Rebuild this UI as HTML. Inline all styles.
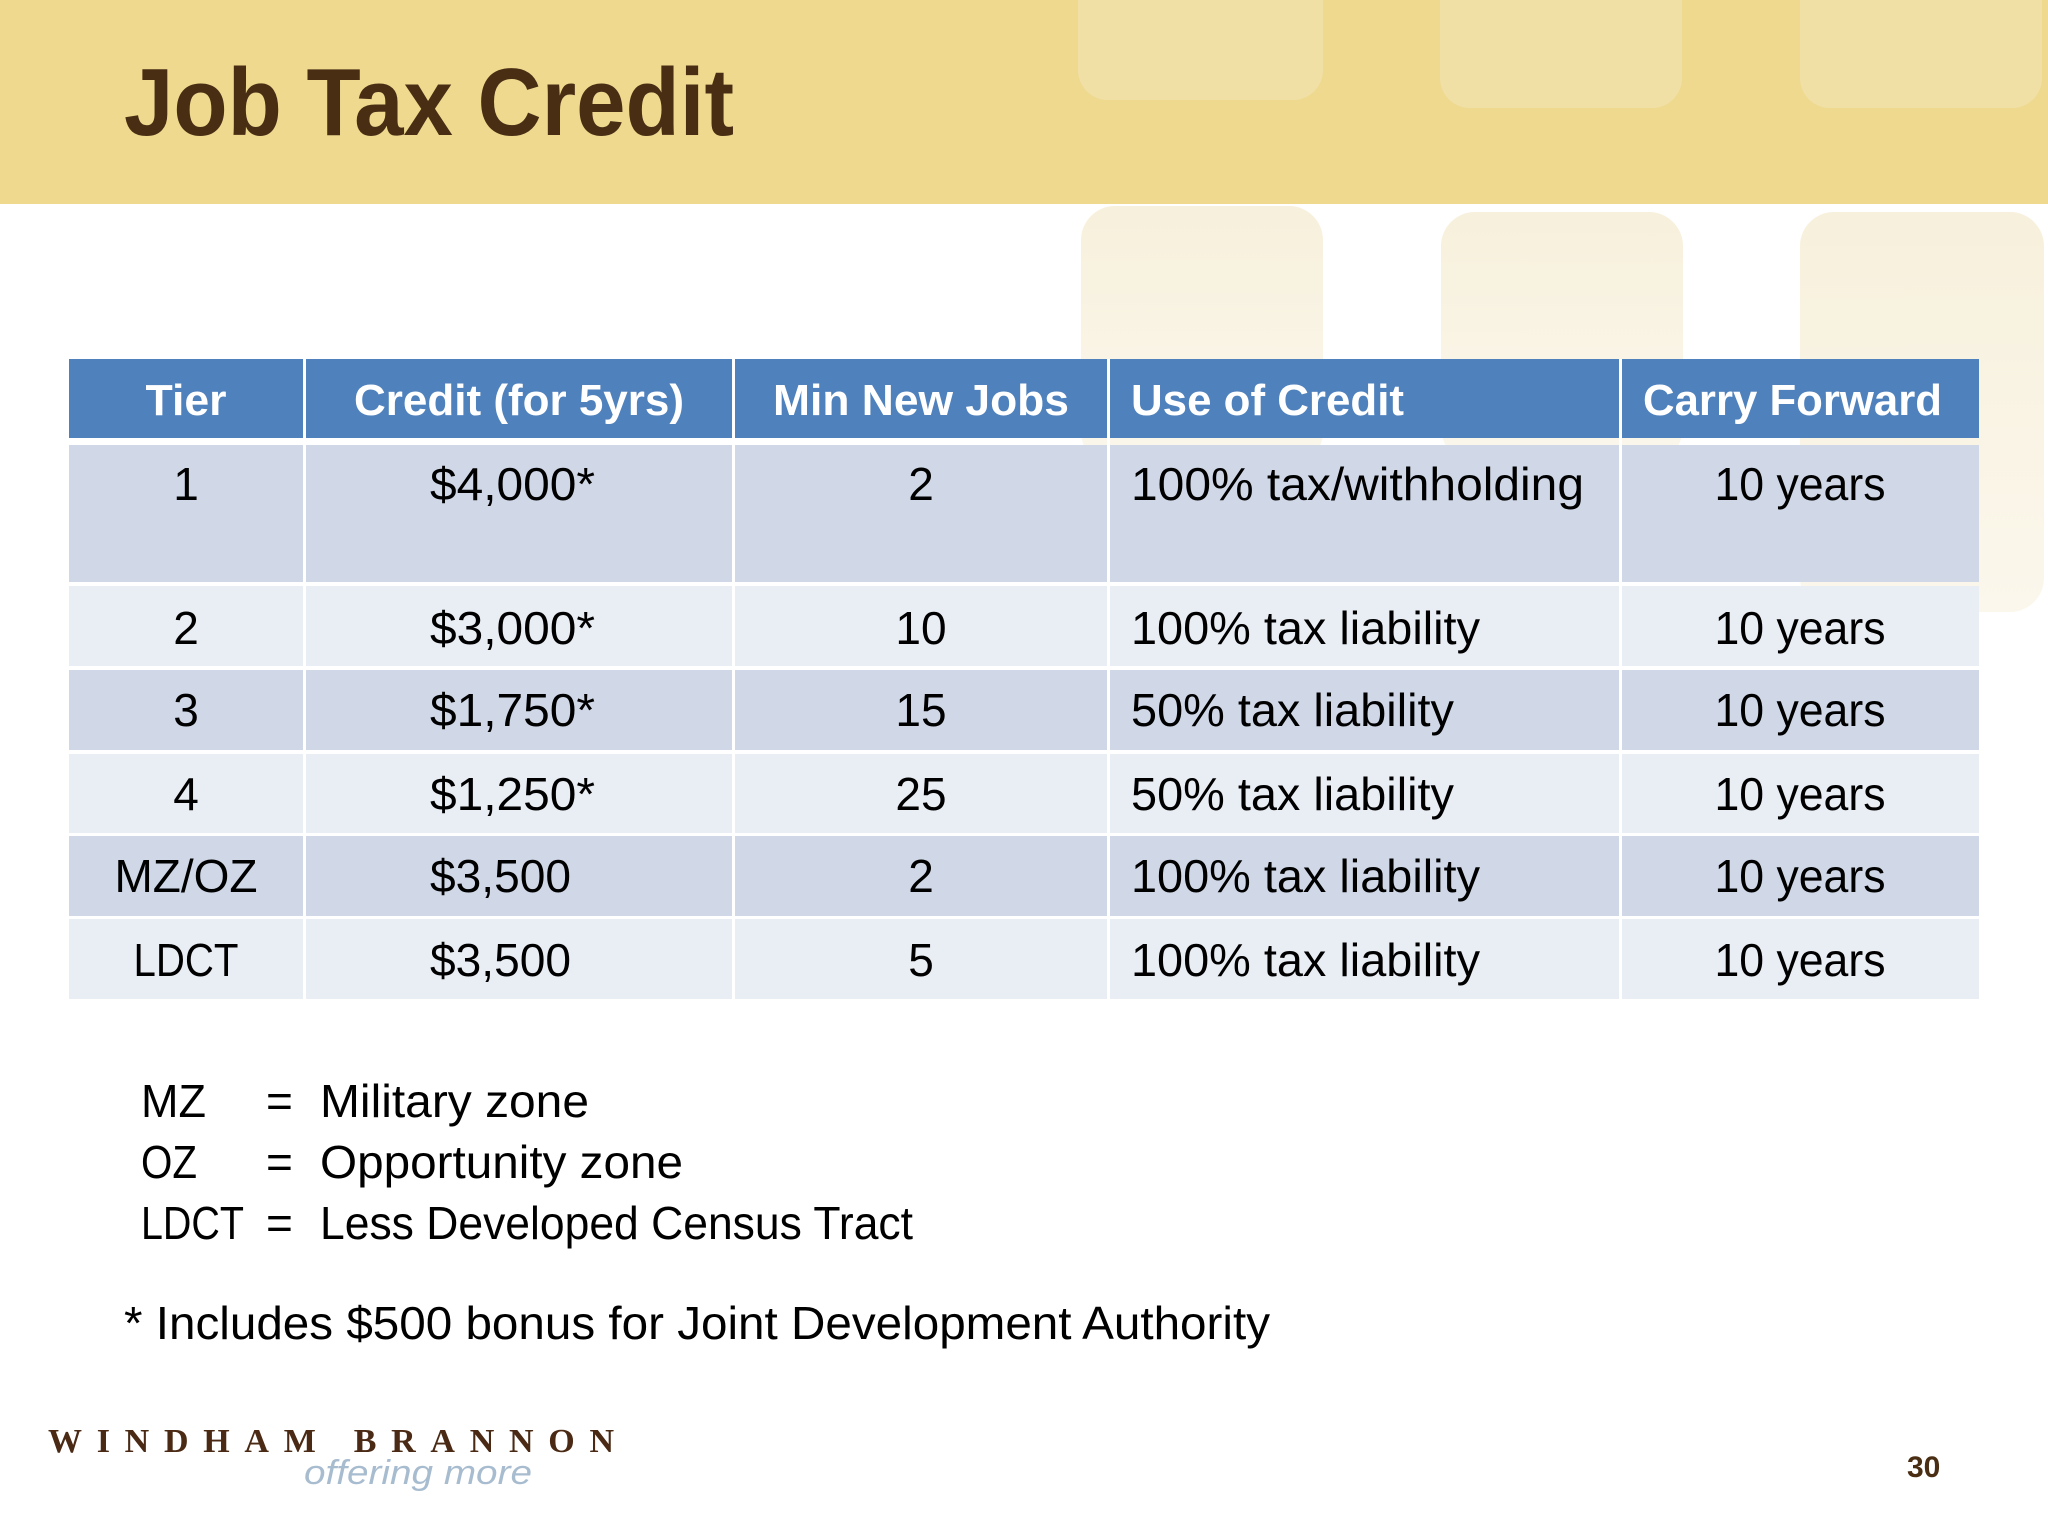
<!DOCTYPE html>
<html><head><meta charset="utf-8"><style>
html,body{margin:0;padding:0;background:#fff;}
svg{display:block;}
text{font-family:"Liberation Sans",sans-serif;}
</style></head><body>
<svg width="2048" height="1536" viewBox="0 0 2048 1536">
<defs>
<linearGradient id="fade" x1="0" y1="0" x2="0" y2="1"><stop offset="0" stop-color="#F7F0DC"/><stop offset="1" stop-color="#FBF7EC"/></linearGradient>
</defs>
<rect x="0" y="0" width="2048" height="204" fill="#EED98F"/>
<g>
<rect x="1078" y="-40" width="245" height="140" rx="30" fill="#F0E0A6"/>
<rect x="1440" y="-40" width="242" height="148" rx="30" fill="#F0E0A6"/>
<rect x="1800" y="-40" width="242" height="148" rx="30" fill="#F0E0A6"/>
<rect x="1081" y="206" width="242" height="260" rx="34" fill="url(#fade)"/>
<rect x="1441" y="212" width="242" height="250" rx="34" fill="url(#fade)"/>
<rect x="1800" y="212" width="244" height="400" rx="34" fill="url(#fade)"/>
</g>
<text x="124" y="135" font-size="96" font-weight="bold" fill="#4A2E14" textLength="610" lengthAdjust="spacingAndGlyphs">Job Tax Credit</text>

<g>
<rect x="69" y="359" width="1910" height="79" fill="#4F81BD"/>
<rect x="69" y="445" width="1910" height="137" fill="#D0D8E8"/>
<rect x="69" y="586" width="1910" height="80" fill="#E9EDF4"/>
<rect x="69" y="670" width="1910" height="80" fill="#D0D8E8"/>
<rect x="69" y="754" width="1910" height="79" fill="#E9EDF4"/>
<rect x="69" y="836" width="1910" height="80" fill="#D0D8E8"/>
<rect x="69" y="919" width="1910" height="80" fill="#E9EDF4"/>
<g fill="#fff">
<rect x="303" y="359" width="3" height="640"/><rect x="732" y="359" width="3" height="640"/>
<rect x="1107" y="359" width="3" height="640"/><rect x="1619" y="359" width="3" height="640"/>
</g>
<g font-size="44" font-weight="bold" fill="#fff">
<text x="186" y="415" text-anchor="middle" textLength="81" lengthAdjust="spacingAndGlyphs">Tier</text>
<text x="519" y="415" text-anchor="middle" textLength="330" lengthAdjust="spacingAndGlyphs">Credit (for 5yrs)</text>
<text x="921" y="415" text-anchor="middle" textLength="296" lengthAdjust="spacingAndGlyphs">Min New Jobs</text>
<text x="1131" y="415" textLength="273" lengthAdjust="spacingAndGlyphs">Use of Credit</text>
<text x="1643" y="415" textLength="299" lengthAdjust="spacingAndGlyphs">Carry Forward</text>
</g>
<g font-size="46" fill="#000">
<g>
<text x="186" y="500" text-anchor="middle">1</text>
<text x="430" y="500" textLength="165" lengthAdjust="spacingAndGlyphs">$4,000*</text>
<text x="921" y="500" text-anchor="middle">2</text>
<text x="1131" y="500" textLength="453" lengthAdjust="spacingAndGlyphs">100% tax/withholding</text>
<text x="1800" y="500" text-anchor="middle" textLength="171" lengthAdjust="spacingAndGlyphs">10 years</text>
</g>
<g>
<text x="186" y="644" text-anchor="middle">2</text>
<text x="430" y="644" textLength="165" lengthAdjust="spacingAndGlyphs">$3,000*</text>
<text x="921" y="644" text-anchor="middle">10</text>
<text x="1131" y="644" textLength="349" lengthAdjust="spacingAndGlyphs">100% tax liability</text>
<text x="1800" y="644" text-anchor="middle" textLength="171" lengthAdjust="spacingAndGlyphs">10 years</text>
</g>
<g>
<text x="186" y="726" text-anchor="middle">3</text>
<text x="430" y="726" textLength="165" lengthAdjust="spacingAndGlyphs">$1,750*</text>
<text x="921" y="726" text-anchor="middle">15</text>
<text x="1131" y="726" textLength="323" lengthAdjust="spacingAndGlyphs">50% tax liability</text>
<text x="1800" y="726" text-anchor="middle" textLength="171" lengthAdjust="spacingAndGlyphs">10 years</text>
</g>
<g>
<text x="186" y="810" text-anchor="middle">4</text>
<text x="430" y="810" textLength="165" lengthAdjust="spacingAndGlyphs">$1,250*</text>
<text x="921" y="810" text-anchor="middle">25</text>
<text x="1131" y="810" textLength="323" lengthAdjust="spacingAndGlyphs">50% tax liability</text>
<text x="1800" y="810" text-anchor="middle" textLength="171" lengthAdjust="spacingAndGlyphs">10 years</text>
</g>
<g>
<text x="186" y="892" text-anchor="middle" textLength="143" lengthAdjust="spacingAndGlyphs">MZ/OZ</text>
<text x="430" y="892" textLength="141" lengthAdjust="spacingAndGlyphs">$3,500</text>
<text x="921" y="892" text-anchor="middle">2</text>
<text x="1131" y="892" textLength="349" lengthAdjust="spacingAndGlyphs">100% tax liability</text>
<text x="1800" y="892" text-anchor="middle" textLength="171" lengthAdjust="spacingAndGlyphs">10 years</text>
</g>
<g>
<text x="186" y="976" text-anchor="middle" textLength="105" lengthAdjust="spacingAndGlyphs">LDCT</text>
<text x="430" y="976" textLength="141" lengthAdjust="spacingAndGlyphs">$3,500</text>
<text x="921" y="976" text-anchor="middle">5</text>
<text x="1131" y="976" textLength="349" lengthAdjust="spacingAndGlyphs">100% tax liability</text>
<text x="1800" y="976" text-anchor="middle" textLength="171" lengthAdjust="spacingAndGlyphs">10 years</text>
</g>
</g>
</g>

<g font-size="46" fill="#000">
<text x="141" y="1117" textLength="65" lengthAdjust="spacingAndGlyphs">MZ</text>
<text x="266" y="1117">=</text>
<text x="320" y="1117" textLength="269" lengthAdjust="spacingAndGlyphs">Military zone</text>
<text x="141" y="1178" textLength="56" lengthAdjust="spacingAndGlyphs">OZ</text>
<text x="266" y="1178">=</text>
<text x="320" y="1178" textLength="363" lengthAdjust="spacingAndGlyphs">Opportunity zone</text>
<text x="141" y="1239" textLength="103" lengthAdjust="spacingAndGlyphs">LDCT</text>
<text x="266" y="1239">=</text>
<text x="320" y="1239" textLength="593" lengthAdjust="spacingAndGlyphs">Less Developed Census Tract</text>
</g>
<text x="124" y="1339" font-size="46" fill="#000" textLength="1146" lengthAdjust="spacingAndGlyphs">* Includes $500 bonus for Joint Development Authority</text>

<g>
<text x="48" y="1452" font-size="34" font-weight="bold" fill="#4A2A14" textLength="566" lengthAdjust="spacing" style="font-family:'Liberation Serif',serif">WINDHAM BRANNON</text>
<text x="304" y="1484" font-size="34" font-style="italic" fill="#A8BCD0" textLength="228" lengthAdjust="spacingAndGlyphs">offering more</text>
</g>
<text x="1907" y="1477" font-size="30" font-weight="bold" fill="#4A2E14">30</text>
</svg>
</body></html>
